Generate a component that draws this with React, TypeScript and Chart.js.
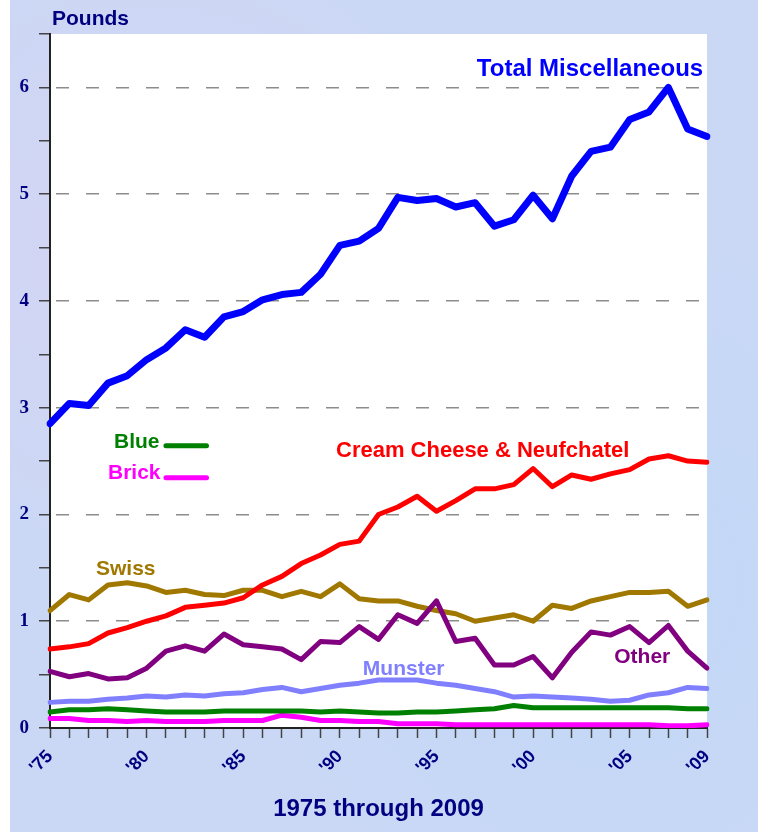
import React, { useEffect, useRef } from 'react';
import { Chart, registerables } from 'chart.js';

Chart.register(...registerables);

const years = [
  '1975', '1976', '1977', '1978', '1979', '1980', '1981', '1982', '1983', '1984',
  '1985', '1986', '1987', '1988', '1989', '1990', '1991', '1992', '1993', '1994',
  '1995', '1996', '1997', '1998', '1999', '2000', '2001', '2002', '2003', '2004',
  '2005', '2006', '2007', '2008', '2009',
];

const labeledYears = ['1975', '1980', '1985', '1990', '1995', '2000', '2005', '2009'];

const totalMisc = [
  2.85, 3.04, 3.02, 3.23, 3.30, 3.45, 3.56, 3.73, 3.66, 3.85,
  3.90, 4.01, 4.06, 4.08, 4.25, 4.52, 4.56, 4.68, 4.97, 4.94,
  4.96, 4.88, 4.92, 4.70, 4.76, 4.99, 4.77, 5.17, 5.40, 5.44,
  5.70, 5.77, 6.00, 5.61, 5.54,
];

const creamCheese = [
  0.74, 0.76, 0.79, 0.89, 0.94, 1.00, 1.05, 1.13, 1.15, 1.17,
  1.22, 1.34, 1.42, 1.54, 1.62, 1.72, 1.75, 2.00, 2.07, 2.17,
  2.03, 2.13, 2.24, 2.24, 2.28, 2.43, 2.26, 2.37, 2.33, 2.38,
  2.42, 2.52, 2.55, 2.50, 2.49,
];

const swiss = [
  1.10, 1.25, 1.20, 1.34, 1.36, 1.33, 1.27, 1.29, 1.25, 1.24,
  1.29, 1.29, 1.23, 1.28, 1.23, 1.35, 1.21, 1.19, 1.19, 1.14,
  1.10, 1.07, 1.00, 1.03, 1.06, 1.00, 1.15, 1.12, 1.19, 1.23,
  1.27, 1.27, 1.28, 1.14, 1.20,
];

const other = [
  0.53, 0.48, 0.51, 0.46, 0.47, 0.56, 0.72, 0.77, 0.72, 0.88,
  0.78, 0.76, 0.74, 0.64, 0.81, 0.80, 0.95, 0.83, 1.06, 0.98,
  1.19, 0.81, 0.84, 0.59, 0.59, 0.67, 0.47, 0.71, 0.90, 0.87,
  0.95, 0.80, 0.96, 0.72, 0.56,
];

const munster = [
  0.24, 0.25, 0.25, 0.27, 0.28, 0.30, 0.29, 0.31, 0.30, 0.32,
  0.33, 0.36, 0.38, 0.34, 0.37, 0.40, 0.42, 0.45, 0.45, 0.45,
  0.42, 0.40, 0.37, 0.34, 0.29, 0.30, 0.29, 0.28, 0.27, 0.25,
  0.26, 0.31, 0.33, 0.38, 0.37,
];

const blue = [
  0.15, 0.17, 0.17, 0.18, 0.17, 0.16, 0.15, 0.15, 0.15, 0.16,
  0.16, 0.16, 0.16, 0.16, 0.15, 0.16, 0.15, 0.14, 0.14, 0.15,
  0.15, 0.16, 0.17, 0.18, 0.21, 0.19, 0.19, 0.19, 0.19, 0.19,
  0.19, 0.19, 0.19, 0.18, 0.18,
];

const brick = [
  0.09, 0.09, 0.07, 0.07, 0.06, 0.07, 0.06, 0.06, 0.06, 0.07,
  0.07, 0.07, 0.12, 0.10, 0.07, 0.07, 0.06, 0.06, 0.04, 0.04,
  0.04, 0.03, 0.03, 0.03, 0.03, 0.03, 0.03, 0.03, 0.03, 0.03,
  0.03, 0.03, 0.02, 0.02, 0.03,
];

const NAVY = '#000080';
const SANS = "'Liberation Sans', Arial, sans-serif";
const SERIF = "'Liberation Serif', 'Times New Roman', serif";

// Series labels placed in data coordinates (category index, value)
const seriesLabels = [
  { text: 'Total Miscellaneous', color: '#0000FF', size: 24, at: [33.8, 6.105], align: 'right' },
  { text: 'Cream Cheese & Neufchatel', color: '#FF0000', size: 22, at: [14.8, 2.535], align: 'left' },
  { text: 'Swiss', color: '#A07800', size: 21, at: [2.38, 1.433], align: 'left' },
  { text: 'Blue', color: '#008000', size: 21, at: [3.31, 2.625], align: 'left' },
  { text: 'Brick', color: '#FF00FF', size: 21, at: [3.0, 2.328], align: 'left' },
  { text: 'Munster', color: '#8080FF', size: 21, at: [16.19, 0.496], align: 'left' },
  { text: 'Other', color: '#800080', size: 21, at: [29.2, 0.611], align: 'left' },
];

// Short legend keys next to "Blue" and "Brick"
const legendKeys = [
  { color: '#008000', from: 6.0, to: 8.1, value: 2.643 },
  { color: '#FF00FF', from: 6.0, to: 8.1, value: 2.344 },
];

const decorPlugin = {
  id: 'decor',
  beforeDraw(chart: any) {
    const { ctx, chartArea } = chart;
    ctx.save();
    ctx.fillStyle = '#ffffff';
    ctx.fillRect(chartArea.left, chartArea.top, chartArea.right - chartArea.left, chartArea.bottom - chartArea.top);
    ctx.restore();
  },
  afterDraw(chart: any) {
    const { ctx, chartArea, scales } = chart;
    const xs = scales.x;
    const ys = scales.y;
    ctx.save();
    ctx.font = `bold 21px ${SANS}`;
    ctx.fillStyle = NAVY;
    ctx.textAlign = 'left';
    ctx.textBaseline = 'alphabetic';
    ctx.fillText('Pounds', chartArea.left + 2, chartArea.top - 9);

    for (const l of seriesLabels) {
      ctx.font = `bold ${l.size}px ${SANS}`;
      ctx.fillStyle = l.color;
      ctx.textAlign = l.align as CanvasTextAlign;
      ctx.textBaseline = 'alphabetic';
      ctx.fillText(l.text, xs.getPixelForValue(l.at[0]), ys.getPixelForValue(l.at[1]));
    }
    for (const k of legendKeys) {
      ctx.strokeStyle = k.color;
      ctx.lineWidth = 5;
      ctx.lineCap = 'round';
      ctx.beginPath();
      const y = ys.getPixelForValue(k.value);
      ctx.moveTo(xs.getPixelForValue(k.from), y);
      ctx.lineTo(xs.getPixelForValue(k.to), y);
      ctx.stroke();
    }
    ctx.restore();
  },
};

function mkSet(label: string, data: number[], color: string, width: number) {
  return {
    label,
    data,
    borderColor: color,
    backgroundColor: color,
    borderWidth: width,
    pointRadius: 0,
    pointHoverRadius: 0,
    tension: 0,
    fill: false,
    borderJoinStyle: 'round' as const,
    borderCapStyle: 'round' as const,
  };
}

export default function App() {
  const canvasRef = useRef<HTMLCanvasElement | null>(null);

  useEffect(() => {
    const canvas = canvasRef.current;
    if (!canvas) return;
    const chart = new Chart(canvas, {
      type: 'line',
      data: {
        labels: years,
        datasets: [
          mkSet('Total Miscellaneous', totalMisc, '#0000FF', 7),
          mkSet('Cream Cheese & Neufchatel', creamCheese, '#FF0000', 5),
          mkSet('Other', other, '#800080', 5),
          mkSet('Swiss', swiss, '#A07800', 5),
          mkSet('Munster', munster, '#8080FF', 5),
          mkSet('Blue', blue, '#008000', 5),
          mkSet('Brick', brick, '#FF00FF', 5),
        ],
      },
      options: {
        responsive: false,
        animation: false,
        events: [],
        layout: { padding: { left: 0, top: 34, right: 55, bottom: 0 } },
        plugins: {
          legend: { display: false },
          tooltip: { enabled: false },
          title: { display: false },
        },
        scales: {
          x: {
            type: 'category',
            offset: false,
            grid: {
              drawOnChartArea: false,
              drawTicks: true,
              tickLength: 10,
              tickColor: '#444',
              tickWidth: 1.5,
            },
            border: { display: true, color: '#222', width: 2 },
            ticks: {
              autoSkip: false,
              maxRotation: 45,
              minRotation: 45,
              padding: 8,
              color: NAVY,
              font: { family: SANS, weight: 'bold', size: 18 },
              callback: (_v: any, index: number) => {
                const y = years[index];
                return labeledYears.includes(y) ? "'" + y.slice(2) : '';
              },
            },
            title: {
              display: true,
              text: '1975 through 2009',
              color: NAVY,
              font: { family: SANS, weight: 'bold', size: 24 },
              padding: { top: 0, bottom: 8 },
            },
            afterFit: (scale: any) => {
              scale.height = 104;
            },
          },
          y: {
            min: 0,
            max: 6.5,
            ticks: {
              stepSize: 0.5,
              padding: 10,
              color: NAVY,
              font: { family: SERIF, weight: 'bold', size: 19 },
              callback: (v: any) => (Number.isInteger(v) ? String(v) : ''),
            },
            grid: {
              color: (c: any) => {
                const v = c.tick ? c.tick.value : 0;
                return v > 0 && Number.isInteger(v) ? '#8c8c8c' : 'rgba(0,0,0,0)';
              },
              lineWidth: 1.5,
              tickLength: 11,
              tickColor: '#444',
              tickWidth: 1.5,
            },
            border: { display: true, color: '#222', width: 2, dash: [13, 17], dashOffset: -5 },
            afterFit: (scale: any) => {
              scale.width = 50;
            },
          },
        },
      },
      plugins: [decorPlugin],
    });
    return () => chart.destroy();
  }, []);

  return (
    <div style={{ position: 'fixed', left: 0, top: 0, width: 762, height: 832, background: '#ffffff' }}>
      <div
        style={{
          position: 'absolute',
          left: 10,
          top: 0,
          width: 748,
          height: 832,
          background:
            'radial-gradient(circle at 20% 30%, rgba(235,205,240,0.35), rgba(235,205,240,0) 40%), radial-gradient(circle at 80% 70%, rgba(180,215,250,0.4), rgba(180,215,250,0) 45%), #cad8f5',
        }}
      />
      <canvas ref={canvasRef} width={762} height={832} style={{ position: 'absolute', left: 0, top: 0 }} />
    </div>
  );
}
